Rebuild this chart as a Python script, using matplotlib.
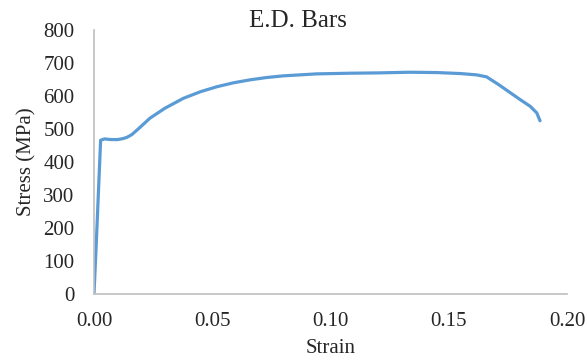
import matplotlib
matplotlib.use("Agg")
import matplotlib.pyplot as plt

strain = [0.0, 0.0010, 0.0020, 0.0028, 0.0045, 0.0070, 0.0100, 0.0123, 0.0140,
          0.0160, 0.0190, 0.0237, 0.0300, 0.0378, 0.0450, 0.0519, 0.0590, 0.0660,
          0.0730, 0.0800, 0.0870, 0.0940, 0.1010, 0.1080, 0.1200, 0.1336, 0.1450,
          0.1550, 0.1618, 0.1660, 0.1710, 0.1760, 0.1800, 0.1844, 0.1872, 0.1886]
stress = [0, 160, 330, 466, 470, 468, 468, 471, 475,
          483, 502, 533, 563, 593, 613, 628, 640, 649,
          656, 661, 664, 667, 668, 669, 670, 672, 671,
          668, 664, 658, 635, 610, 590, 569, 549, 525]

x_ticks = [0.00, 0.05, 0.10, 0.15, 0.20]
y_ticks = [0, 100, 200, 300, 400, 500, 600, 700, 800]

plt.rcParams['font.family'] = ['Liberation Serif', 'DejaVu Serif']

fig = plt.figure(figsize=(5.87, 3.60), dpi=100)
ax = fig.add_axes([94/587, 1-294/360, (567-94)/587, (294-30)/360])

ax.plot(strain, stress, color='#5B9BD5', lw=2.3, solid_capstyle='round', solid_joinstyle='round')

ax.set_xlim(0, 0.20)
ax.set_ylim(0, 800)
ax.set_xticks(x_ticks)
ax.set_xticklabels([f"{v:.2f}" for v in x_ticks])
ax.set_yticks(y_ticks)
ax.tick_params(axis='both', length=0, labelsize=15, colors='#262626')
ax.tick_params(axis='y', pad=14)
ax.tick_params(axis='x', pad=13)
for s in ['top', 'right']:
    ax.spines[s].set_visible(False)
for s in ['left', 'bottom']:
    ax.spines[s].set_color('#BFBFBF')
    ax.spines[s].set_linewidth(1.2)

ax.set_xlabel('Strain', fontsize=15, color='#262626', labelpad=6)
ax.set_ylabel('Stress (MPa)', fontsize=15, color='#262626', labelpad=5)
fig.text(0.507, 0.942, 'E.D. Bars', ha='center', va='center', fontsize=18, color='#262626')

fig.savefig('out.png', dpi=100)
